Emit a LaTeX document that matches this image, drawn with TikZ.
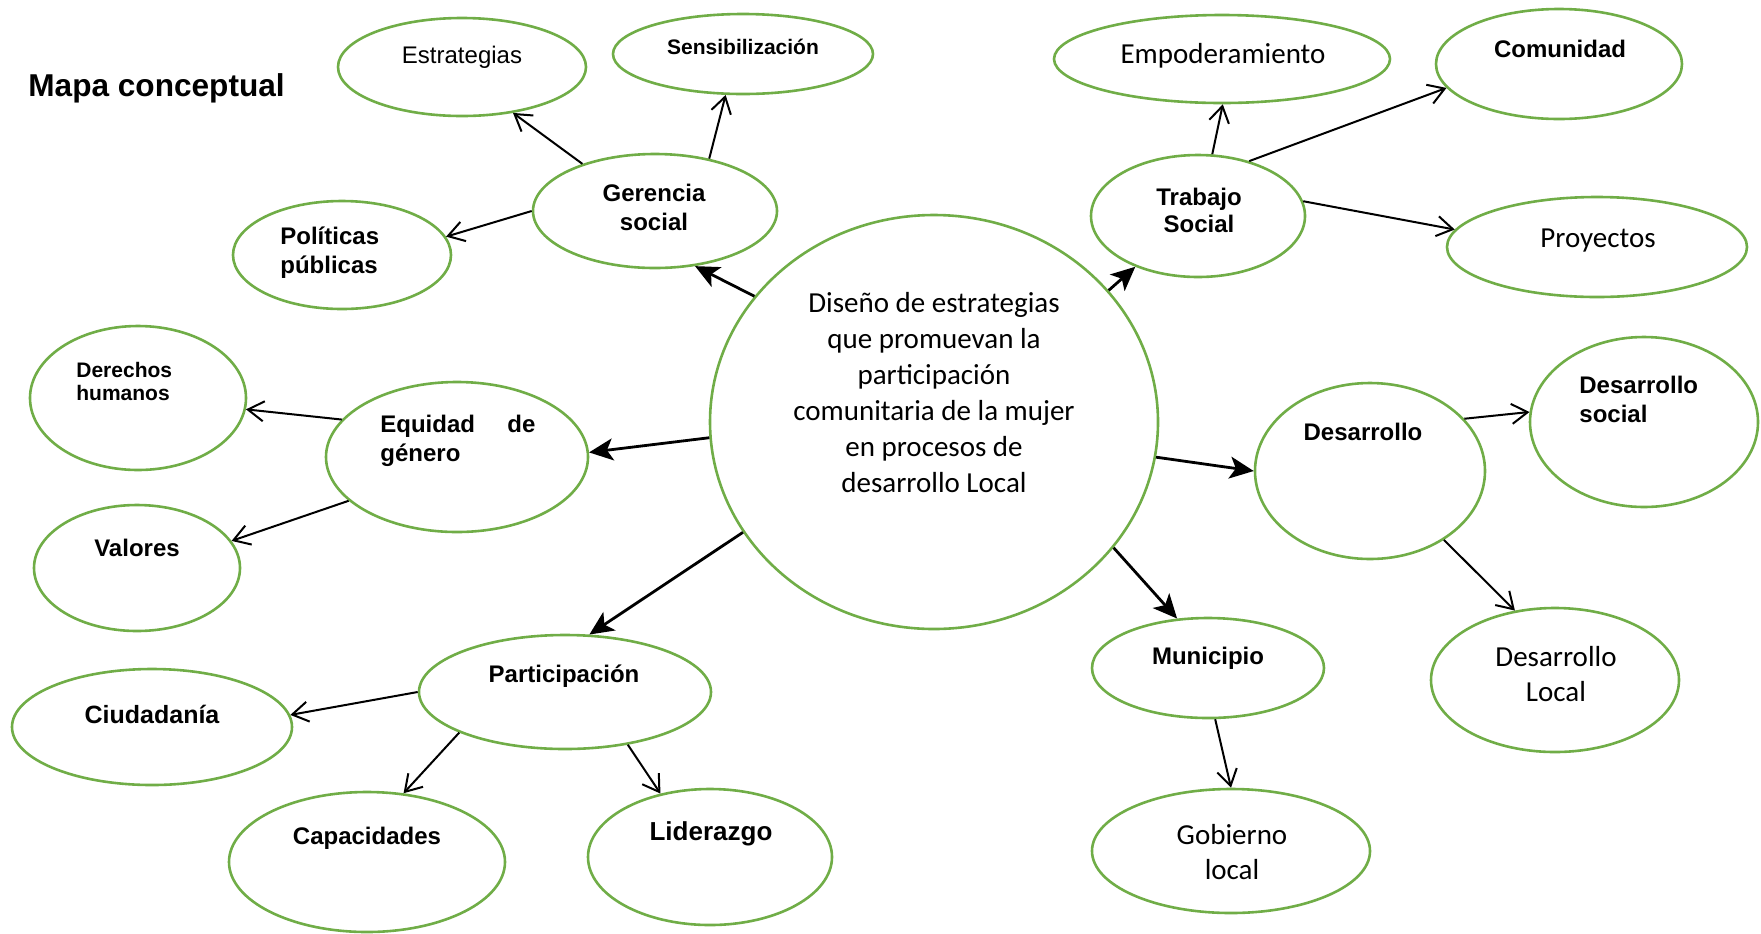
\documentclass[tikz,border=0pt]{standalone}
\usepackage{fontspec}
\setmainfont{Liberation Sans}
\newfontfamily\calibri{Carlito}
\usetikzlibrary{arrows.meta,shapes.geometric}
\definecolor{verdeoffice}{RGB}{112,173,71}
\tikzset{
  burbuja/.style={ellipse, draw=verdeoffice, line width=1.3pt, inner sep=0pt},
  rama/.style={-{Straight Barb[length=8pt,width=10pt]}, line width=1pt},
  raiz/.style={-{Stealth[length=12pt,width=11pt,inset=3pt]}, line width=1.4pt},
  negrita/.style={font=\bfseries\fontsize{12}{14.5}\selectfont, inner sep=0pt},
  chica/.style={font=\bfseries\fontsize{10.5}{11.5}\selectfont, inner sep=0pt},
  ligera/.style={font=\calibri\fontsize{14.5}{17.5}\selectfont, inner sep=0pt},
}
\begin{document}
\begin{tikzpicture}[x=0.5pt,y=-0.5pt]
\useasboundingbox (0,0) rectangle (1761,933);
\node[anchor=west, font=\bfseries\fontsize{15.8}{18}\selectfont, inner sep=0pt] (titulo) at (28,88) {Mapa conceptual};

\node[burbuja, minimum width=224pt, minimum height=207pt] (cen) at (934,422) {};
\node[burbuja, minimum width=124pt, minimum height=49pt] (est) at (462,67) {};
\node[burbuja, minimum width=130pt, minimum height=40pt] (sen) at (743,54) {};
\node[burbuja, minimum width=122pt, minimum height=57pt] (gs) at (655,211) {};
\node[burbuja, minimum width=109pt, minimum height=54pt] (pol) at (342,255) {};
\node[burbuja, minimum width=168pt, minimum height=44pt] (emp) at (1222,59) {};
\node[burbuja, minimum width=123pt, minimum height=55pt] (com) at (1559,64) {};
\node[burbuja, minimum width=107pt, minimum height=61pt] (ts) at (1198,216) {};
\node[burbuja, minimum width=150pt, minimum height=50pt] (pro) at (1597,247) {};
\node[burbuja, minimum width=108pt, minimum height=72pt] (der) at (138,398) {};
\node[burbuja, minimum width=131pt, minimum height=75pt] (eq) at (457,457) {};
\node[burbuja, minimum width=103pt, minimum height=63pt] (val) at (137,568) {};
\node[burbuja, minimum width=146pt, minimum height=57pt] (part) at (565,692) {};
\node[burbuja, minimum width=140pt, minimum height=58pt] (ciu) at (152,727) {};
\node[burbuja, minimum width=138pt, minimum height=70pt] (cap) at (367,862) {};
\node[burbuja, minimum width=122pt, minimum height=68pt] (lid) at (710,857) {};
\node[burbuja, minimum width=115pt, minimum height=88pt] (des) at (1370,471) {};
\node[burbuja, minimum width=114pt, minimum height=85pt] (dsoc) at (1644,422) {};
\node[burbuja, minimum width=116pt, minimum height=50pt] (mun) at (1208,668) {};
\node[burbuja, minimum width=124pt, minimum height=72pt] (dloc) at (1555,680) {};
\node[burbuja, minimum width=139pt, minimum height=62pt] (gob) at (1231,851) {};

\node[ligera, align=center, font=\calibri\fontsize{14.5}{18}\selectfont] (tcen) at (934,393) {Diseño de estrategias\\que promuevan la\\participación\\comunitaria de la mujer\\en procesos de\\desarrollo Local};
\node[font=\fontsize{12}{14.5}\selectfont, inner sep=0pt] (test) at (462,57) {Estrategias};
\node[chica] (tsen) at (743,47) {Sensibilización};
\node[negrita, align=center] (tgs) at (654,207) {Gerencia\\social};
\node[negrita, align=left, anchor=west] (tpol) at (280,253) {Políticas\\públicas};
\node[ligera] (temp) at (1223,56) {Empoderamiento};
\node[negrita] (tcom) at (1560,49) {Comunidad};
\node[negrita, align=center, font=\bfseries\fontsize{12}{13.5}\selectfont] (tts) at (1199,210) {Trabajo\\Social};
\node[ligera] (tpro) at (1598,241) {Proyectos};
\node[chica, align=left, anchor=west] (tder) at (76,381) {Derechos\\humanos};
\node[negrita, align=left, text width=77.5pt, anchor=west] (teq) at (380,441) {Equidad\hfill de\\género};
\node[negrita] (tval) at (137,548) {Valores};
\node[negrita] (tpart) at (564,676) {Participación};
\node[negrita, font=\bfseries\fontsize{12.5}{15}\selectfont] (tciu) at (152,714) {Ciudadanía};
\node[negrita] (tcap) at (367,838) {Capacidades};
\node[negrita, font=\bfseries\fontsize{13}{15}\selectfont] (tlid) at (711,834) {Liderazgo};
\node[negrita] (tdes) at (1363,432) {Desarrollo};
\node[negrita, align=left, anchor=west] (tdsoc) at (1579,399) {Desarrollo\\social};
\node[negrita] (tmun) at (1208,658) {Municipio};
\node[ligera, align=center] (tdloc) at (1556,674) {Desarrollo\\Local};
\node[ligera, align=center] (tgob) at (1232,852) {Gobierno\\local};

\draw[raiz] (cen.145) -- (gs.-54);
\draw[raiz] (cen.37) -- (ts.-141);
\draw[raiz] (cen.184) -- (eq.2);
\draw[raiz] (cen.210) -- (part.67);
\draw[raiz] (cen.-9) -- (des.180);
\draw[raiz] (cen.-35) -- (mun.122);

\draw[rama] (gs.147) -- (est.-42);
\draw[rama] (gs.44) -- (sen.-113);
\draw[rama] (gs.180) -- (pol.10);
\draw[rama] (ts.77) -- (emp.-89);
\draw[rama] (ts.47) -- (com.192);
\draw[rama] (ts.8) -- (pro.173);
\draw[rama] (eq.162) -- (der.-6);
\draw[rama] (eq.202) -- (val.16);
\draw[rama] (part.180) -- (ciu.5);
\draw[rama] (part.201) -- (cap.62);
\draw[rama] (part.-40) -- (lid.128);
\draw[rama] (des.29) -- (dsoc.175);
\draw[rama] (des.-43) -- (dloc.120);
\draw[rama] (mun.-82) -- (gob.90);
\end{tikzpicture}
\end{document}
